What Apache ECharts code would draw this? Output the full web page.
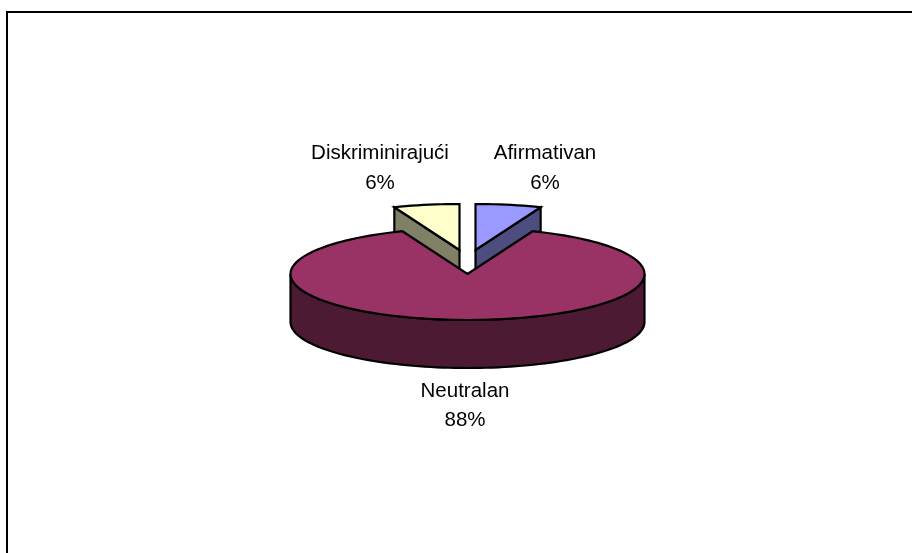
<!DOCTYPE html>
<html>
<head>
<meta charset="utf-8">
<style>html,body{margin:0;padding:0;background:#fff}#c{width:912px;height:553px}</style>
<script src="https://cdn.jsdelivr.net/npm/echarts@6/dist/echarts.min.js"></script>
</head>
<body>
<div id="c"></div>
<script>
var categories = ['Afirmativan', 'Neutralan', 'Diskriminirajući'];
var values = [6, 88, 6];
var topColors = ['#9999FF', '#993366', '#FFFFCC'];
var sideColors = ['#4D4D80', '#4D1A33', '#808066'];

var CX = 467.5, CY = 274, RX = 177, RY = 46, DEPTH = 48;
var EXPLODE_X = 8, EXPLODE_Y = 24;
var FONT = '"Liberation Sans", Arial, sans-serif';
var total = values.reduce(function (a, b) { return a + b; }, 0);

function pt(cx, cy, deg) {
  var r = deg * Math.PI / 180;
  return [cx + RX * Math.sin(r), cy - RY * Math.cos(r)];
}
function arc(cx, cy, a0, a1) {
  var out = [], n = Math.max(2, Math.ceil(Math.abs(a1 - a0) / 2));
  for (var i = 0; i <= n; i++) out.push(pt(cx, cy, a0 + (a1 - a0) * i / n));
  return out;
}
function labelEl(text, x, y, z2) {
  return {
    type: 'text', z2: z2,
    style: { text: text, x: x, y: y, fill: '#000', font: '20.5px ' + FONT, align: 'center', verticalAlign: 'middle' }
  };
}
var BORDER = { stroke: '#000', lineWidth: 2.2, lineJoin: 'miter' };
function face(points, fill, z2) {
  return {
    type: 'polygon', z2: z2,
    shape: { points: points },
    style: Object.assign({ fill: fill }, BORDER)
  };
}

function renderItem(params, api) {
  var i = params.dataIndex, v = api.value(0), start = 0;
  for (var k = 0; k < i; k++) start += values[k];
  var a0 = start / total * 360, a1 = (start + v) / total * 360, mid = (a0 + a1) / 2;
  var small = a1 - a0 < 180;
  var side = Math.sin(mid * Math.PI / 180) >= 0 ? 1 : -1;
  var cx = CX + (small ? side * EXPLODE_X : 0), cy = CY - (small ? EXPLODE_Y : 0);
  var children = [];
  var z = small ? 1 : 5;
  if (small) {
    var wallAngle = side > 0 ? a1 : a0;
    var e = pt(cx, cy, wallAngle);
    children.push(face([[cx, cy], e, [e[0], e[1] + DEPTH], [cx, cy + DEPTH]], sideColors[i], z));
    children.push(face([[cx, cy]].concat(arc(cx, cy, a0, a1)), topColors[i], z + 1));
    var lx = side > 0 ? 545 : 380;
    children.push(labelEl(categories[i], lx, 153, 9));
    children.push(labelEl(v + '%', lx, 183, 9));
  } else {
    var front = arc(cx, cy, 90, 270);
    var low = front.map(function (p) { return [p[0], p[1] + DEPTH]; }).reverse();
    children.push(face(front.concat(low), sideColors[i], z));
    children.push(face([[cx, cy]].concat(arc(cx, cy, a0, a1)), topColors[i], z + 1));
    children.push(labelEl(categories[i], 465, 391, 9));
    children.push(labelEl(v + '%', 465, 420, 9));
  }
  return { type: 'group', children: children };
}

var chart = echarts.init(document.getElementById('c'), null, { renderer: 'canvas' });
chart.setOption({
  animation: false,
  backgroundColor: '#fff',
  graphic: [{
    type: 'polyline',
    shape: { points: [[7, 553], [7, 12], [912, 12]] },
    style: { stroke: '#000', lineWidth: 2, fill: null }
  }],
  series: [{
    type: 'custom',
    coordinateSystem: 'none',
    renderItem: renderItem,
    data: values.map(function (v, i) { return { name: categories[i], value: [v] }; })
  }]
});
</script>
</body>
</html>
